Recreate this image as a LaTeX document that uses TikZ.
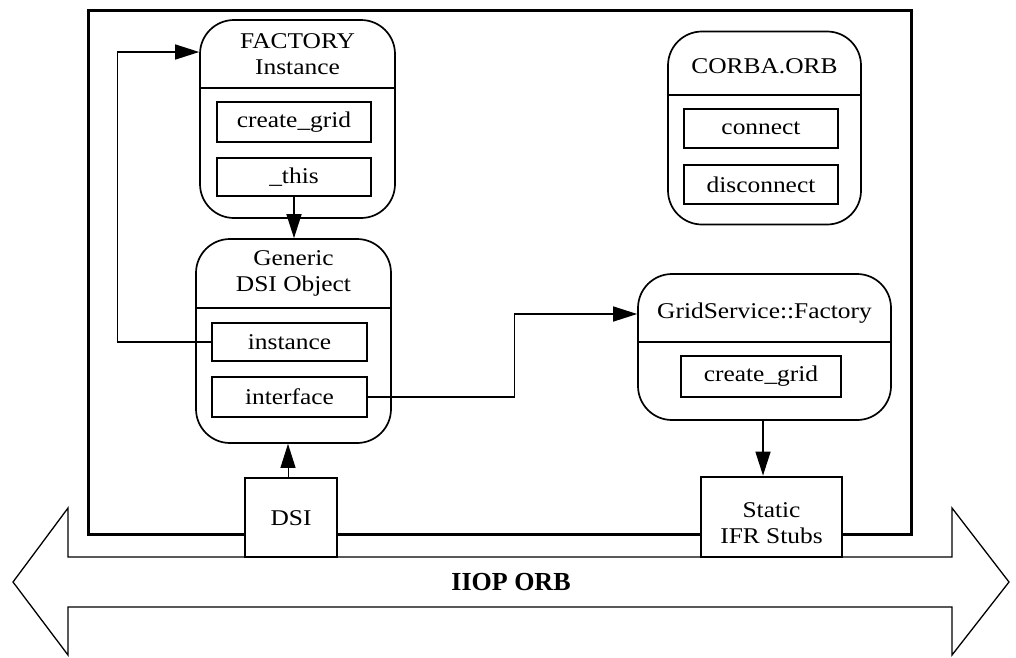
\documentclass[tikz,border=0pt]{standalone}
\usepackage{fontspec}
\newfontfamily\lbl[FakeStretch=1.13]{Liberation Serif}
\newfontfamily\lblb{Liberation Serif}
\usetikzlibrary{arrows.meta}
\begin{document}
\begin{tikzpicture}[x=1pt,y=-1pt,
  obj/.style={draw,line width=1.7pt,rounded corners=34pt,inner sep=0pt,fill=white},
  op/.style={draw,line width=2.8pt,inner sep=0pt,fill=white,font=\fontsize{22.5}{26}\selectfont\lbl},
  ttl/.style={align=center,inner sep=0pt,font=\fontsize{22.5}{26}\selectfont\lbl},
  div/.style={line width=2.4pt},
  conn/.style={line width=1.5pt,-{Triangle[length=24pt,width=15pt]}},
  box/.style={draw,line width=2.8pt,fill=white,inner sep=0pt,align=center,font=\fontsize{22.5}{26}\selectfont\lbl}]
\useasboundingbox (0,0) rectangle (1016,657);
% big double arrow
\draw[line width=1.3pt,line join=miter] (68,557) -- (952,557) -- (952,508) -- (1009,582) -- (952,655) -- (952,607)
  -- (68,607) -- (68,655) -- (13,582) -- (68,508) -- cycle;
\node[inner sep=0pt,font=\fontsize{26}{30}\selectfont\lblb\bfseries] (iiop) at (511,582) {IIOP ORB};
% frame
\draw[line width=3pt] (88,10) rectangle (911,534);
% FACTORY Instance
\node[obj,minimum width=195pt,minimum height=198pt] (factory) at (297.5,119) {};
\draw[div] (factory.west |- 0,88) -- (factory.east |- 0,88);
\node[ttl] (factoryT) at (297.5,54) {FACTORY\\Instance};
\node[op,minimum width=154pt,minimum height=40pt] (fcreate) at (294,122) {create\_grid};
\node[op,minimum width=154pt,minimum height=38pt] (fthis) at (294,177) {\_this};
% Generic DSI Object
\node[obj,minimum width=195pt,minimum height=204pt] (generic) at (293.5,341) {};
\draw[div] (generic.west |- 0,308) -- (generic.east |- 0,308);
\node[ttl] (genericT) at (293.5,273) {Generic\\DSI Object};
\node[op,minimum width=155pt,minimum height=38pt] (instance) at (289.5,342) {instance};
\node[op,minimum width=155pt,minimum height=40pt] (interface) at (289.5,397) {interface};
% CORBA.ORB
\node[obj,minimum width=193pt,minimum height=193pt] (corba) at (764.5,128) {};
\draw[div] (corba.west |- 0,95) -- (corba.east |- 0,95);
\node[ttl] (corbaT) at (764.5,66) {CORBA.ORB};
\node[op,minimum width=154pt,minimum height=39pt] (connect) at (761,128.5) {connect};
\node[op,minimum width=154pt,minimum height=39pt] (disconnect) at (761,184.5) {disconnect};
% GridService::Factory
\node[obj,minimum width=253pt,minimum height=146pt] (grid) at (764.5,347) {};
\draw[div] (grid.west |- 0,342) -- (grid.east |- 0,342);
\node[ttl] (gridT) at (764.5,313) {GridService::Factory};
\node[op,minimum width=160pt,minimum height=41pt] (gcreate) at (761,376.5) {create\_grid};
% DSI and stubs
\node[box,minimum width=92pt,minimum height=79pt] (dsi) at (291,517.5) {};
\node[ttl] (dsiT) at (291,518) {DSI};
\node[box,minimum width=141pt,minimum height=80pt] (stubs) at (771.5,517) {};
\node[ttl] (stubsT) at (771.5,523) {Static\\IFR Stubs};
% connectors
\draw[conn] (instance.west) -- ++(-93,0) |- (factory.west |- 0,52);
\draw[conn] (fthis.south) -- (fthis.south |- generic.north);
\draw[line width=1pt,-{Triangle[length=24pt,width=15pt]}] (dsi.north -| 288,0) -- (generic.south -| 288,0);
\draw[conn] (interface.east) -- ++(146,0) |- (grid.west |- 0,314);
\draw[conn] (grid.south -| 763,0) -- (stubs.north -| 763,0);
\end{tikzpicture}
\end{document}
